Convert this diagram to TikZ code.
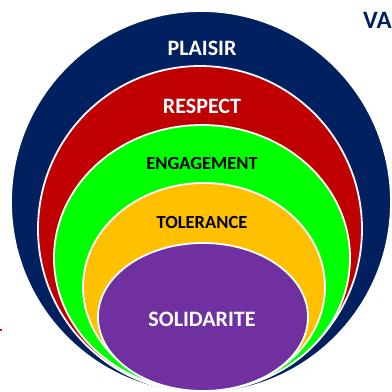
\documentclass[tikz,border=0pt]{standalone}
\usepackage{fontspec}
\setmainfont{Carlito}
\usepackage{tikz}
\definecolor{navyring}{HTML}{002060}
\definecolor{redring}{HTML}{C00000}
\definecolor{greenring}{HTML}{00FF00}
\definecolor{yellowring}{HTML}{FFC000}
\definecolor{purplering}{HTML}{7030A0}
\tikzstyle{ring} = [draw=white, line width=1.8pt]
\tikzstyle{word} = [text centered, inner sep=0pt, font=\fontsize{22}{24}\selectfont\bfseries]
\tikzstyle{smallword} = [text centered, inner sep=0pt, font=\fontsize{18.5}{20}\selectfont\bfseries]

\begin{document}
\begin{tikzpicture}[x=1pt, y=1pt]
  \useasboundingbox (0,0) rectangle (392,392);

  \fill [ring, fill=navyring] (201,190) ellipse [x radius=190, y radius=191];
  \fill [ring, fill=redring] (200,163) ellipse [x radius=162, y radius=163];
  \fill [ring, fill=greenring] (202,134) ellipse [x radius=148, y radius=133];
  \fill [ring, fill=yellowring] (204,105) ellipse [x radius=121, y radius=104];
  \fill [ring, fill=purplering] (203,75) ellipse [x radius=105, y radius=74];

  \node (plaisir) [word, text=white] at (202,344) {PLAISIR};
  \node (respect) [word, text=white] at (202,286) {RESPECT};
  \node (engagement) [smallword, text=black] at (202,229) {ENGAGEMENT};
  \node (tolerance) [smallword, text=black] at (202,170) {TOLERANCE};
  \node (solidarite) [word, text=white] at (202,73) {SOLIDARITE};

  \node (va) [word, font=\fontsize{25}{27}\selectfont\bfseries, text=navyring, anchor=west] at (363,372) {VA};
  \fill [red] (0,61) rectangle (1.5,63);
\end{tikzpicture}
\end{document}
